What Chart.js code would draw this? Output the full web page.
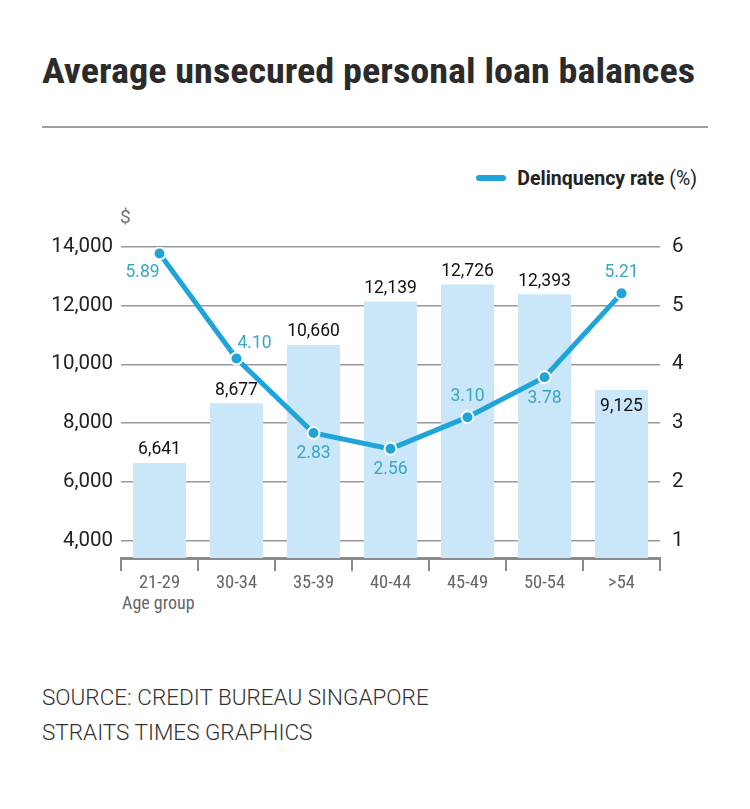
<!DOCTYPE html>
<html>
<head>
<meta charset="utf-8">
<script src="https://cdn.jsdelivr.net/npm/chart.js@4"></script>
<style>
  html, body { margin: 0; padding: 0; background: #fff; }
  body { width: 750px; height: 809px; position: relative; overflow: hidden; font-family: Roboto, "Open Sans", sans-serif; }
  #title { position: absolute; left: 42px; top: 51px; font-family: "Liberation Sans Narrow", "Roboto Condensed", Roboto, sans-serif; font-weight: bold; font-size: 35px; color: #2b2b2b; white-space: nowrap; transform-origin: 0 0; }
  #rule { position: absolute; left: 42px; top: 126px; width: 666px; height: 2px; background: #a0a0a0; }
  #legend { position: absolute; right: 53px; top: 167px; font-size: 19.5px; color: #222; white-space: nowrap; }
  #legend .swatch { display: inline-block; width: 30px; height: 6px; border-radius: 3px; background: #1fa4da; vertical-align: middle; margin-right: 11px; position: relative; top: -2px; }
  #legend b { font-weight: bold; }
  #dollar { position: absolute; left: 120px; top: 205px; font-size: 19px; color: #777; }
  #agegroup { position: absolute; left: 122px; top: 592px; font-family: "Liberation Sans Narrow", "Roboto Condensed", Roboto, sans-serif; font-size: 18px; color: #666; }
  #source { position: absolute; left: 42px; top: 680px; font-size: 22.5px; line-height: 35px; color: #333; font-weight: 300; }
  #wrap { position: absolute; left: 0; top: 200px; width: 750px; height: 420px; }
</style>
</head>
<body>
<div id="title">Average unsecured personal loan balances</div>
<div id="rule"></div>
<div id="legend"><span class="swatch"></span><b>Delinquency rate</b> (%)</div>
<div id="dollar">$</div>
<div id="agegroup">Age group</div>
<div id="source">SOURCE: CREDIT BUREAU SINGAPORE<br>STRAITS TIMES GRAPHICS</div>
<div id="wrap"><canvas id="chart"></canvas></div>

<script>
// data
const ageGroups = ['21-29', '30-34', '35-39', '40-44', '45-49', '50-54', '>54'];
const loanBalances = [6641, 8677, 10660, 12139, 12726, 12393, 9125];
const delinquencyRate = [5.89, 4.10, 2.83, 2.56, 3.10, 3.78, 5.21];
const balanceTicks = [4000, 6000, 8000, 10000, 12000, 14000];
const rateTicks = [1, 2, 3, 4, 5, 6];

// where each rate label sits relative to its point
const rateLabelSide = ['below-left', 'above-right', 'below', 'below', 'above', 'below', 'above'];

// title fits the rule width
const title = document.getElementById('title');
const tw = title.getBoundingClientRect().width;
title.style.transform = 'scaleX(' + (653 / tw) + ')';

const lineBlue = '#1fa4da';
const labelTeal = '#38a7c0';

const valueLabels = {
    id: 'valueLabels',
    afterDatasetsDraw(chart) {
        const ctx = chart.ctx;
        ctx.save();
        ctx.textAlign = 'center';
        ctx.textBaseline = 'middle';
        ctx.font = '17.5px Roboto, "Open Sans", sans-serif';

        // bar values
        const bars = chart.getDatasetMeta(1).data;
        bars.forEach((bar, i) => {
            ctx.fillStyle = '#111';
            const inside = i === bars.length - 1;
            const y = inside ? bar.y + 17 : bar.y - 13;
            ctx.fillText(loanBalances[i].toLocaleString('en-US'), bar.x, y);
        });

        // rate values
        const pts = chart.getDatasetMeta(0).data;
        pts.forEach((p, i) => {
            let dx = 0, dy = 0;
            switch (rateLabelSide[i]) {
                case 'below-left': dx = -17; dy = 19; break;
                case 'above-right': dx = 18; dy = -15; break;
                case 'below': dy = 21; break;
                case 'above': dy = -21; break;
            }
            ctx.fillStyle = labelTeal;
            ctx.fillText(delinquencyRate[i].toFixed(2), p.x + dx, p.y + dy);
        });
        ctx.restore();
    }
};

const chart = new Chart(document.getElementById('chart'), {
    data: {
        labels: ageGroups,
        datasets: [{
            type: 'line',
            label: 'Delinquency rate',
            data: delinquencyRate,
            yAxisID: 'yRate',
            borderColor: lineBlue,
            borderWidth: 5,
            pointRadius: 6,
            pointBackgroundColor: lineBlue,
            pointBorderColor: '#fff',
            pointBorderWidth: 2,
            tension: 0,
            order: 0
        }, {
            type: 'bar',
            label: 'Average balance',
            data: loanBalances,
            yAxisID: 'yBal',
            backgroundColor: '#c9e7f8',
            categoryPercentage: 0.69,
            barPercentage: 1,
            order: 1
        }]
    },
    options: {
        responsive: true,
        maintainAspectRatio: false,
        animation: false,
        layout: { padding: { top: 47, left: 0, right: 0, bottom: 0 } },
        plugins: {
            legend: { display: false },
            tooltip: { enabled: false }
        },
        scales: {
            x: {
                grid: {
                    offset: true,
                    drawOnChartArea: false,
                    drawTicks: true,
                    tickLength: 13,
                    color: '#8a8a8a',
                    lineWidth: 2
                },
                border: { display: true, color: '#8a8a8a', width: 3 },
                ticks: {
                    color: '#666',
                    padding: 1,
                    font: { family: '"Liberation Sans Narrow", "Roboto Condensed", Roboto, sans-serif', size: 18.5 }
                },
                afterFit(scale) { scale.height = 62; }
            },
            yBal: {
                position: 'left',
                min: 3400,
                max: 14000,
                afterBuildTicks(scale) { scale.ticks = balanceTicks.map(v => ({ value: v })); },
                grid: { color: '#999', lineWidth: 1.5, drawTicks: false },
                border: { display: false },
                ticks: {
                    color: '#222',
                    padding: 8,
                    font: { family: 'Roboto, "Open Sans", sans-serif', size: 20.5 },
                    callback: v => v.toLocaleString('en-US')
                },
                afterFit(scale) { scale.width = 121; }
            },
            yRate: {
                position: 'right',
                min: 0.7,
                max: 6,
                afterBuildTicks(scale) { scale.ticks = rateTicks.map(v => ({ value: v })); },
                grid: { display: false, drawTicks: false },
                border: { display: false },
                ticks: {
                    color: '#222',
                    padding: 12,
                    font: { family: 'Roboto, "Open Sans", sans-serif', size: 20.5 }
                },
                afterFit(scale) { scale.width = 90; }
            }
        }
    },
    plugins: [valueLabels]
});
</script>
</body>
</html>
